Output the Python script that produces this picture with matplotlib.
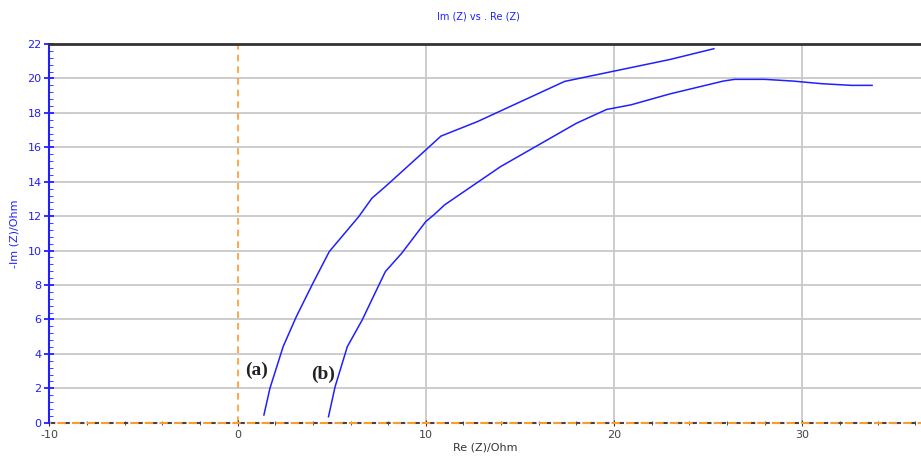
import matplotlib.pyplot as plt
from matplotlib.ticker import MultipleLocator

plt.rcParams["axes.unicode_minus"] = False

# curve (a)
re_a = [1.40, 1.72, 2.42, 3.12, 4.0, 4.87, 6.44, 7.14, 7.85, 10.0, 10.8, 12.75, 17.37, 22.95, 25.3]
im_a = [0.45, 2.0, 4.42, 6.16, 8.1, 9.94, 11.98, 13.05, 13.72, 15.85, 16.65, 17.5, 19.83, 21.1, 21.73]

# curve (b)
re_b = [4.83, 5.18, 5.83, 6.62, 7.2, 7.85, 8.72, 10.0, 10.45, 11.0, 13.97, 18.0, 19.6, 20.9, 22.95,
        25.8, 26.4, 28.0, 29.5, 31.0, 32.6, 33.7]
im_b = [0.35, 2.09, 4.42, 5.97, 7.3, 8.78, 9.85, 11.69, 12.1, 12.66, 14.88, 17.4, 18.2, 18.47, 19.1,
        19.85, 19.95, 19.95, 19.85, 19.7, 19.6, 19.6]

labels = ["(a)", "(b)"]
label_pos = [(1.0, 3.05), (4.55, 2.8)]

blue = "#2020ff"
orange = "#ff9a2e"

fig = plt.figure(figsize=(9.21, 4.59), dpi=100)
ax = fig.add_axes([0.0535, 0.079, 0.9465, 0.825])

ax.set_xlim(-10, 36.3)
ax.set_ylim(0, 22)

for x in [10, 20, 30]:
    ax.axvline(x, color="#c8c8c8", lw=1.3, zorder=0)
for y in range(2, 22, 2):
    ax.axhline(y, color="#c8c8c8", lw=1.3, zorder=0)

ax.plot(re_a, im_a, color=blue, lw=1.1)
ax.plot(re_b, im_b, color=blue, lw=1.1)

ax.axvline(0, color=orange, lw=1.2, ls=(0, (4, 3)), zorder=1)
ax.axhline(0, color="#444444", lw=1.5, ls=(0, (3, 4)), zorder=2, clip_on=False)
ax.axhline(0, color=orange, lw=1.5, ls=(3, (4, 3)), zorder=2, clip_on=False)

for txt, (x, y) in zip(labels, label_pos):
    ax.text(x, y, txt, fontsize=14, fontweight="bold", family="Liberation Serif",
            color="#222222", ha="center", va="center")

ax.spines["right"].set_visible(False)
ax.spines["bottom"].set_visible(False)
ax.spines["top"].set_color("#333333")
ax.spines["top"].set_linewidth(2)
ax.spines["left"].set_color(blue)
ax.spines["left"].set_linewidth(1.5)

ax.xaxis.set_major_locator(MultipleLocator(10))
ax.xaxis.set_minor_locator(MultipleLocator(2))
ax.yaxis.set_major_locator(MultipleLocator(2))
ax.yaxis.set_minor_locator(MultipleLocator(0.4))

ax.tick_params(axis="x", which="major", direction="inout", length=4, color="#333333",
               labelsize=8, labelcolor="#444444", pad=3)
ax.tick_params(axis="x", which="minor", direction="inout", length=3, color="#333333")
ax.tick_params(axis="y", which="major", direction="inout", length=7, width=1.3, color=blue,
               labelsize=8, labelcolor=blue, pad=2)
ax.tick_params(axis="y", which="minor", direction="in", length=3, color=blue)

ax.set_xlabel("Re (Z)/Ohm", fontsize=8, color="#333333", labelpad=2)
ax.set_ylabel("-Im (Z)/Ohm", fontsize=8, color=blue, labelpad=6)
fig.text(0.52, 0.965, "Im (Z) vs . Re (Z)", fontsize=7, color=blue, ha="center", va="center")

fig.savefig("out.png", dpi=100)
